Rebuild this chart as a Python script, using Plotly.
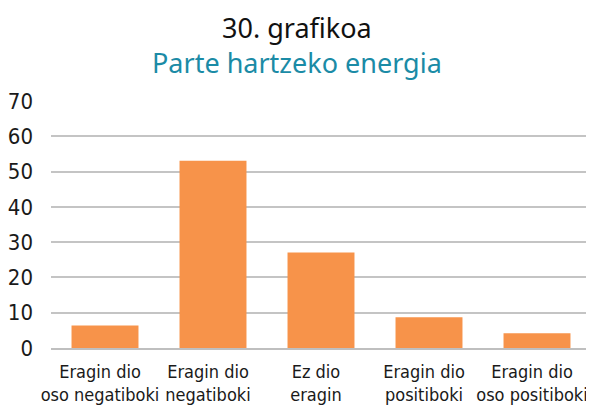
import plotly.graph_objects as go

categories = ["Eragin dio<br>oso negatiboki", "Eragin dio<br>negatiboki", "Ez dio<br>eragin",
              "Eragin dio<br>positiboki", "Eragin dio<br>oso positiboki"]
values = [6.4, 53.1, 27.1, 8.7, 4.2]
y_ticks = [0, 10, 20, 30, 40, 50, 60, 70]
title = "30. grafikoa"
subtitle = "Parte hartzeko energia"

COND = "DejaVu Sans Condensed, sans-serif"
XFONT = dict(family=COND, size=18, color="#1a1a1a")
YFONT = dict(family=COND, size=22, color="#1a1a1a")
TITLEFONT = "Noto Sans, Lato, sans-serif"

fig = go.Figure(go.Bar(x=categories, y=values, marker=dict(color="#F7934A", line=dict(width=0)),
                       width=0.62))

# page body has an 8px default margin; figure sized to fit the 594x408 window
W, H = 586, 400
T, B, L, R = 93, 60, 43, 3
ph = H - T - B
pw = W - L - R
cx = (289 - L) / pw  # centre of the whole window
fig.update_layout(
    width=W, height=H,
    margin=dict(l=L, r=R, t=T, b=B, autoexpand=False),
    paper_bgcolor="white", plot_bgcolor="white",
    showlegend=False,
    font=XFONT,
    annotations=[
        dict(text=f"{title}<br><span style='color:#1B8BA6'>{subtitle}</span>",
             x=cx, xref="paper", y=1 + (T - 36.5) / ph, yref="paper",
             yanchor="middle", showarrow=False, align="center",
             font=dict(family=TITLEFONT, size=27, color="#111")),
    ],
)

fig.update_xaxes(showgrid=False, showline=True, linecolor="#BFBFBF", linewidth=2,
                 ticks="", tickfont=XFONT, tickangle=0, automargin=False,
                 ticklabelstandoff=6, ticklabelshift=-5)
fig.update_yaxes(range=[0, 70], tickvals=y_ticks, showgrid=True, gridcolor="#C4C4C4", gridwidth=2,
                 zeroline=False, ticks="", tickfont=YFONT, ticklabelstandoff=17, automargin=False)

fig.write_html("out.html")
